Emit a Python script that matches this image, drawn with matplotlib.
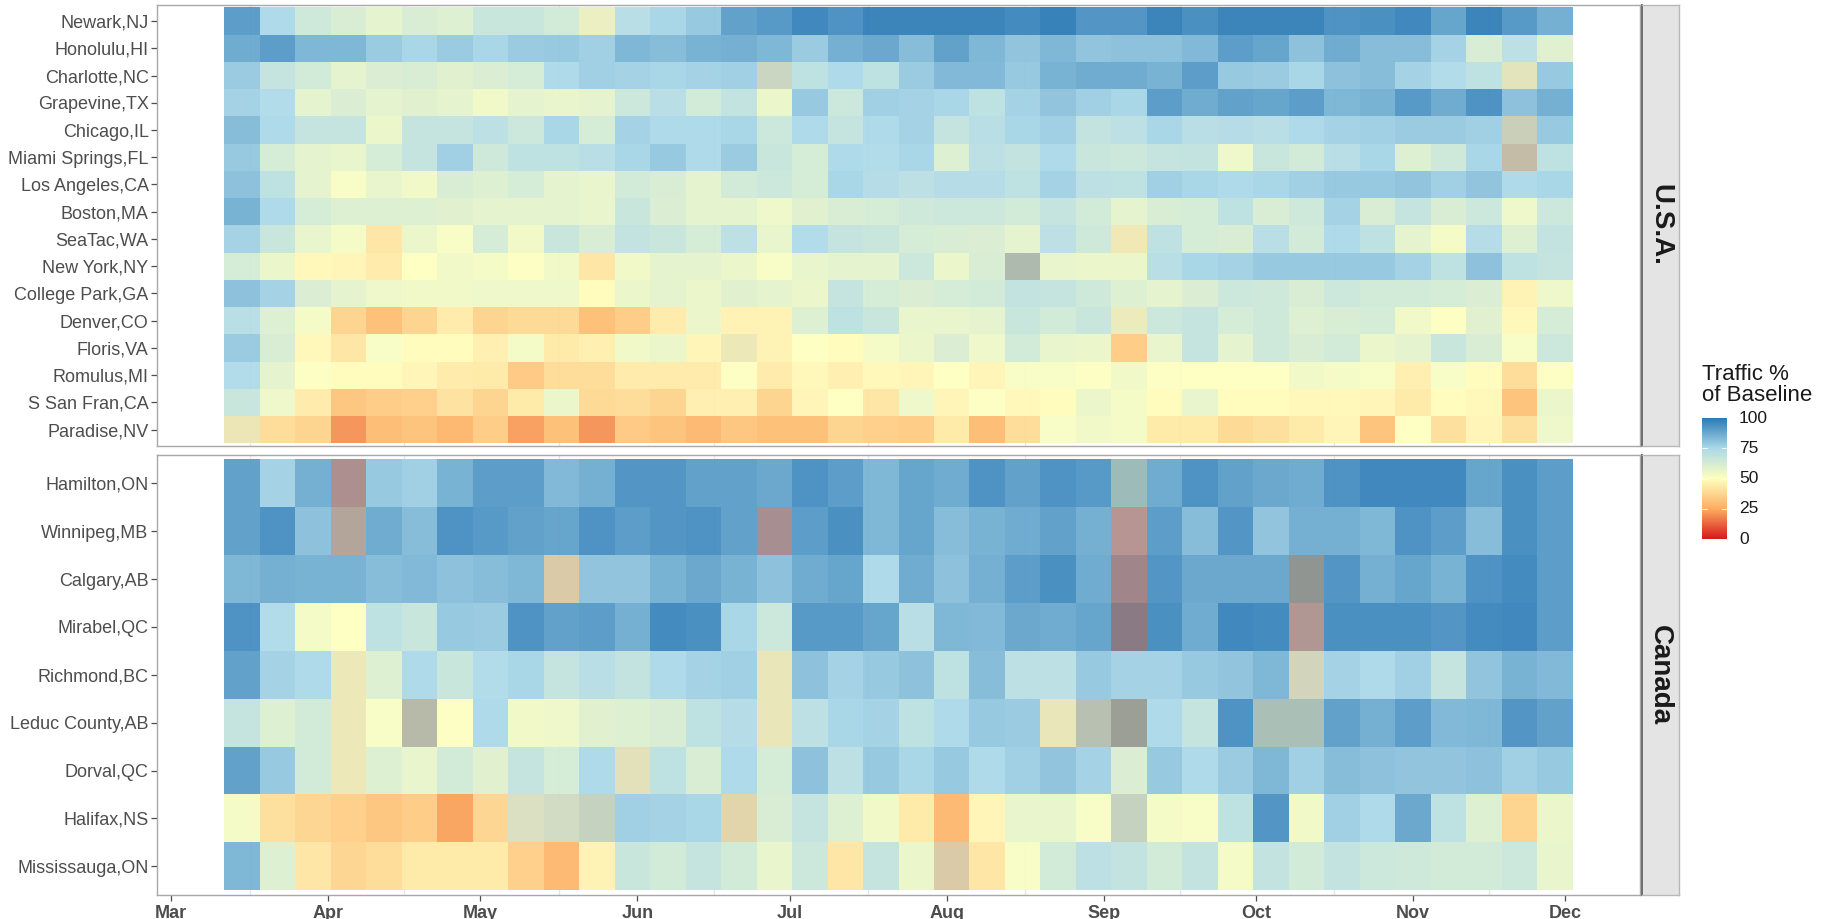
import numpy as np
import pandas as pd
import matplotlib
matplotlib.use("Agg")
import matplotlib.pyplot as plt
import matplotlib.dates as mdates
from matplotlib.colors import LinearSegmentedColormap, Normalize

plt.rcParams['font.family'] = ['Liberation Sans', 'DejaVu Sans']

# ---------------- data ----------------
week_start = "2020-03-15"          # weekly tiles (Sundays)
n_weeks = 38

usa_airports = ["Newark,NJ", "Honolulu,HI", "Charlotte,NC", "Grapevine,TX", "Chicago,IL",
                "Miami Springs,FL", "Los Angeles,CA", "Boston,MA", "SeaTac,WA", "New York,NY",
                "College Park,GA", "Denver,CO", "Floris,VA", "Romulus,MI", "S San Fran,CA",
                "Paradise,NV"]
usa_values = [
    [92,75,65,62,58,62,60,67,67,64,60,72,76, 80,91,93,98,95,99,99,99,99,97,100,94,94, 99,96,99,99,99,95,96,98,90,99,93,87],
    [88,92,85,85,79,76,79,76,79,80,78,85,83, 86,87,85,79,87,89,83,91,85,81,85,81,82, 82,84,92,90,82,88,83,83,77,62,71,59],
    [79,68,64,58,61,62,59,61,63,75,78,77,76, 77,78,78,70,75,70,79,84,84,80,86,88,88, 86,92,80,79,76,82,83,77,74,70,65,80],
    [77,74,58,61,58,59,58,54,58,57,58,66,72, 64,69,56,80,66,78,77,76,70,77,81,78,76, 92,88,91,90,92,85,86,93,88,95,82,87],
    [83,75,68,68,56,68,68,71,66,76,63,77,75, 75,76,66,75,68,75,77,68,72,76,78,69,71, 76,72,73,72,75,77,78,79,79,78,78,80],
    [80,63,58,57,63,68,78,65,70,70,72,76,80, 75,79,67,63,75,74,76,60,71,69,75,67,66, 68,69,55,67,64,72,76,60,65,76,80,70],
    [82,70,58,52,57,54,62,60,63,58,57,64,62, 58,64,66,63,76,73,71,73,73,70,77,71,70, 78,76,75,76,78,80,80,81,78,81,75,76],
    [86,75,63,60,60,60,59,58,58,58,57,67,61, 58,58,55,59,62,63,65,66,66,64,68,64,58, 62,63,70,62,65,77,62,68,62,66,55,66],
    [77,67,57,53,42,56,52,63,54,67,62,69,67, 63,71,57,74,68,67,63,62,61,58,71,65,58, 70,63,62,72,64,75,70,58,53,73,60,69],
    [63,56,48,47,44,50,54,53,51,54,42,54,58, 58,56,52,57,58,58,66,56,62,88,57,56,56, 72,76,77,80,80,80,80,77,70,82,70,68],
    [82,77,61,58,55,54,54,55,55,55,49,56,58, 56,59,58,56,68,63,61,63,64,69,68,65,60, 58,61,66,65,62,66,64,64,63,61,46,55],
    [72,60,53,36,30,36,44,36,38,38,30,34,44, 56,46,46,60,70,67,57,57,58,67,64,67,60, 66,68,63,65,60,62,63,54,51,59,48,63],
    [79,62,48,42,52,49,49,45,53,43,45,54,56, 47,60,46,50,49,53,56,61,55,64,57,56,34, 57,68,58,65,62,64,56,58,67,62,52,66],
    [74,58,51,49,49,47,44,43,33,39,39,44,44, 44,51,44,48,45,48,47,50,47,52,52,51,54, 51,50,50,50,54,53,52,45,52,49,39,51],
    [67,55,44,32,34,35,41,36,43,56,38,39,36, 45,45,36,47,50,42,55,47,51,48,49,56,53, 49,57,49,49,48,48,47,43,49,48,31,56],
    [60,39,36,20,29,31,27,34,22,30,20,33,31, 28,32,30,30,36,35,34,43,29,39,52,54,53, 43,43,38,40,43,47,31,50,40,47,40,55],
]
# weeks where a second reading of the same week overlaps the first tile
usa_overlap = [("Newark,NJ", 10, 45), ("Charlotte,NC", 15, 40), ("Charlotte,NC", 36, 40),
               ("Chicago,IL", 36, 35), ("Miami Springs,FL", 36, 25), ("New York,NY", 22, 35),
               ("SeaTac,WA", 25, 40), ("Denver,CO", 25, 42), ("Floris,VA", 14, 40),
               ("Paradise,NV", 0, 38)]

canada_airports = ["Hamilton,ON", "Winnipeg,MB", "Calgary,AB", "Mirabel,QC", "Richmond,BC",
                   "Leduc County,AB", "Dorval,QC", "Halifax,NS", "Mississauga,ON"]
canada_values = [
    [91,77,87,85,80,78,86,92,92,84,87,94,94, 91,91,89,95,92,85,90,88,95,91,95,93,95, 88,95,91,89,88,95,98,98,98,90,96,92],
    [91,95,82,85,88,83,95,93,91,90,95,92,94, 95,91,88,92,96,85,90,83,86,88,91,87,82, 92,83,94,81,87,87,85,95,92,83,96,92],
    [85,87,86,86,83,84,82,83,85,70,81,81,86, 89,86,82,88,90,75,88,82,87,92,96,88,90, 94,89,89,89,100,94,87,90,86,95,97,92],
    [95,74,53,50,70,67,80,79,95,91,92,87,97, 96,76,66,93,93,90,72,85,84,89,88,90,100, 96,88,98,97,85,96,96,96,94,97,98,92],
    [91,77,75,60,60,75,67,74,76,68,72,69,75, 77,78,62,82,77,80,82,70,83,71,71,80,77, 77,80,81,85,75,77,75,78,68,81,86,84],
    [68,60,64,60,52,85,51,75,54,55,59,60,62, 70,73,62,71,76,77,70,75,80,79,62,85,95, 75,68,95,90,90,91,87,92,84,85,94,91],
    [91,80,64,60,60,57,64,59,68,63,75,65,70, 62,75,63,82,71,80,76,80,75,78,81,77,61, 80,75,79,85,78,83,82,81,81,82,78,80],
    [53,40,37,35,32,34,23,37,70,75,80,78,77, 76,65,62,68,60,54,43,28,47,57,57,52,80, 53,52,70,94,54,78,75,89,70,60,36,56],
    [85,60,42,37,39,43,43,43,35,28,46,67,64, 68,64,57,66,42,68,56,70,42,52,64,71,69, 64,69,53,69,64,69,66,65,64,64,66,57],
]
canada_overlap = [("Hamilton,ON", 3, 12), ("Hamilton,ON", 25, 45),
                  ("Winnipeg,MB", 3, 20), ("Winnipeg,MB", 15, 14), ("Winnipeg,MB", 25, 12),
                  ("Calgary,AB", 9, 25), ("Calgary,AB", 25, 12), ("Calgary,AB", 30, 25),
                  ("Mirabel,QC", 25, 15), ("Mirabel,QC", 30, 15),
                  ("Richmond,BC", 3, 40), ("Richmond,BC", 15, 40), ("Richmond,BC", 30, 35),
                  ("Leduc County,AB", 3, 40), ("Leduc County,AB", 5, 30), ("Leduc County,AB", 15, 40),
                  ("Leduc County,AB", 23, 40), ("Leduc County,AB", 24, 35), ("Leduc County,AB", 25, 25),
                  ("Leduc County,AB", 29, 40), ("Leduc County,AB", 30, 40),
                  ("Dorval,QC", 3, 40), ("Dorval,QC", 11, 38),
                  ("Halifax,NS", 8, 40), ("Halifax,NS", 9, 40), ("Halifax,NS", 10, 40),
                  ("Halifax,NS", 14, 30), ("Halifax,NS", 25, 40),
                  ("Mississauga,ON", 20, 25)]

panel_labels = ["U.S.A.", "Canada"]
legend_ticks = [0, 25, 50, 75, 100]
palette = ["#D7191C", "#FDAE61", "#FFFFBF", "#ABD9E9", "#2C7BB6"]

# ---------------- figure ----------------
W, H = 1831, 919
fig = plt.figure(figsize=(W / 100, H / 100), dpi=100)
cmap = LinearSegmentedColormap.from_list("rdylbu5", palette)
norm = Normalize(0, 100)

weeks = pd.date_range(week_start, periods=n_weeks, freq="7D")
xc = mdates.date2num(weeks)
x_edges = np.concatenate([xc - 3.5, [xc[-1] + 3.5]])
span = x_edges[-1] - x_edges[0]
xlim = (x_edges[0] - 0.05 * span, x_edges[-1] + 0.05 * span)
months = pd.date_range("2020-03-01", "2020-12-01", freq="MS")
mnum = mdates.date2num(months)
minor = (mnum[:-1] + mnum[1:]) / 2


def fx(px):
    return px / W


def fy(py):
    return 1 - py / H


left_px, right_px = 157, 1640
panels_px = [(4.7, 446.0), (454.7, 895.0)]
datasets = [(usa_airports, usa_values, usa_overlap), (canada_airports, canada_values, canada_overlap)]

for k, ((top, bot), (names, vals, ovl)) in enumerate(zip(panels_px, datasets)):
    ax = fig.add_axes([fx(left_px), fy(bot), fx(right_px - left_px), (bot - top) / H])
    n = len(names)
    v = np.array(vals, dtype=float)
    y_edges = np.arange(n + 1) - 0.5
    for m in minor:
        ax.axvline(m, color="#E6E6E6", lw=0.9, zorder=1)
    ax.pcolormesh(x_edges, y_edges, v, cmap=cmap, norm=norm, alpha=0.95,
                  shading="flat", edgecolors="none", zorder=2)
    ov = np.full_like(v, np.nan)
    for name, wk, val in ovl:
        ov[names.index(name), wk] = val
    ax.pcolormesh(x_edges, y_edges, np.ma.masked_invalid(ov), cmap=cmap, norm=norm,
                  alpha=0.45, shading="flat", edgecolors="none", zorder=3)
    ax.set_xlim(*xlim)
    ax.set_ylim(n - 0.5 + 0.1, -0.5 - 0.1)
    ax.set_yticks(np.arange(n))
    ax.set_yticklabels(names, fontsize=13, color="#4D4D4D")
    ax.tick_params(axis="y", length=4, width=0.9, color="#4D4D4D", pad=2)
    if k == 1:
        ax.set_xticks(mnum)
        ax.set_xticklabels([d.strftime("%b") for d in months], fontsize=13,
                           fontweight="bold", color="#4D4D4D")
        ax.tick_params(axis="x", length=4, width=0.9, color="#4D4D4D", pad=3)
    else:
        ax.set_xticks([])
    for s in ax.spines.values():
        s.set_color("#A8A8A8")
        s.set_linewidth(1.0)
    ax.set_facecolor("white")

    # facet strip
    sax = fig.add_axes([fx(1641.7), fy(bot), fx(1679 - 1641.7), (bot - top) / H])
    sax.set_facecolor("#E4E4E4")
    sax.set_xticks([])
    sax.set_yticks([])
    for s in sax.spines.values():
        s.set_color("#B8B8B8")
        s.set_linewidth(1.0)
    sax.spines["left"].set_color("#6E6E6E")
    sax.spines["left"].set_linewidth(1.4)
    sax.text(0.5, 0.5, panel_labels[k], rotation=270, ha="center", va="center",
             fontsize=20, fontweight="bold", color="#1A1A1A", transform=sax.transAxes)

# ---------------- legend ----------------
fig.text(fx(1702), fy(385), "Traffic %\nof Baseline", fontsize=16, ha="left", va="center",
         linespacing=1.05, color="#1A1A1A")
cb_top, cb_bot = 418.3, 539.0
cax = fig.add_axes([fx(1701.7), fy(cb_bot), fx(25), (cb_bot - cb_top) / H])
grad = np.linspace(0, 100, 256).reshape(-1, 1)
cax.imshow(grad, cmap=cmap, norm=norm, aspect="auto", origin="lower", extent=[0, 1, 0, 100])
cax.set_xlim(0, 1)
cax.set_ylim(0, 100)
cax.set_xticks([])
cax.set_yticks([])
for s in cax.spines.values():
    s.set_visible(False)
for t in legend_ticks[1:-1]:
    cax.plot([0, 0.2], [t, t], color="white", lw=0.8, alpha=0.8)
    cax.plot([0.8, 1], [t, t], color="white", lw=0.8, alpha=0.8)
for t in legend_ticks:
    yy = cb_bot - (cb_bot - cb_top) * t / 100
    fig.text(fx(1739), fy(yy), str(t), fontsize=12.5, ha="left", va="center", color="#1A1A1A")

fig.savefig("out.png", dpi=100, facecolor="white")
